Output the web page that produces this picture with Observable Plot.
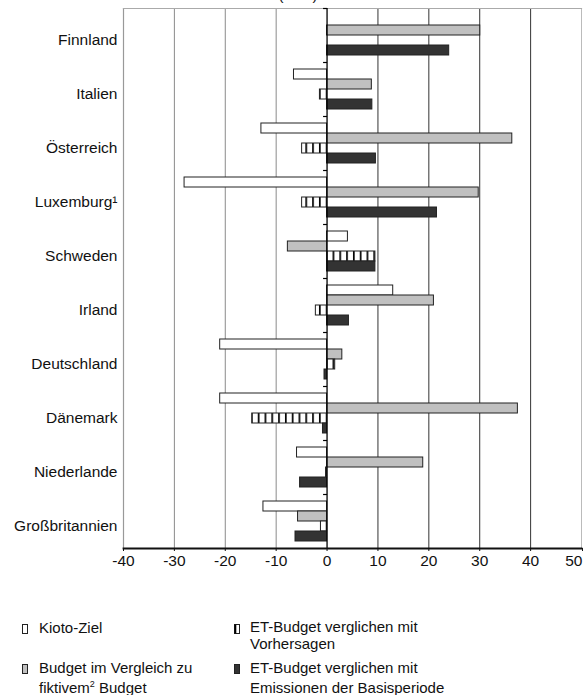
<!DOCTYPE html>
<html>
<head>
<meta charset="utf-8">
<script src="https://cdn.jsdelivr.net/npm/d3@7"></script>
<script src="https://cdn.jsdelivr.net/npm/@observablehq/plot@0.6"></script>
<style>
  html, body { margin: 0; padding: 0; background: #fff; }
  body { width: 586px; height: 695px; overflow: hidden; font-family: "Liberation Sans", Arial, sans-serif; color: #111; }
  #wrap { position: relative; width: 586px; height: 695px; }
  #title { position: absolute; top: -14px; left: 0; width: 586px; text-align: center; font-size: 15px; padding-left: 10px; box-sizing: border-box; }
  .lg { position: absolute; font-size: 15px; white-space: nowrap; }
  .sw { position: absolute; }
  sup { font-size: 9px; vertical-align: 6px; line-height: 0; }
</style>
</head>
<body>
<div id="wrap">
  <div id="chart"></div>
  <div id="title">(in %)</div>
  <div id="legend"></div>
</div>
<script>
// ---- data ----
const countries = ["Finnland", "Italien", "Österreich", "Luxemburg¹", "Schweden", "Irland", "Deutschland", "Dänemark", "Niederlande", "Großbritannien"];
const seriesNames = ["Kioto-Ziel", "Budget im Vergleich zu fiktivem² Budget", "ET-Budget verglichen mit Vorhersagen", "ET-Budget verglichen mit Emissionen der Basisperiode"];
const kiotoZiel    = [null, -6.5, -12.9, -28.0,  4.1, 13.0, -21.0, -21.0, -5.9, -12.5];
const budgetFiktiv = [30.1,  8.8,  36.4,  29.8, -7.7, 21.0,   3.0,  37.5, 18.9,  -5.7];
const etVorhersage = [null, -1.4,  -4.9,  -4.9,  9.5, -2.2,   1.6, -14.7, -0.2,  -1.2];
const etBasis      = [24.0,  8.9,   9.6,  21.6,  9.5,  4.3,  -0.5,  -0.8, -5.3,  -6.2];
const xTicks = [-40, -30, -20, -10, 0, 10, 20, 30, 40, 50];
const seriesFills = ["#ffffff", "#c0c0c0", "url(#hatch)", "#333333"];

const seriesValues = [kiotoZiel, budgetFiktiv, etVorhersage, etBasis];
const rows = [];
countries.forEach((c, i) => {
  seriesNames.forEach((s, j) => {
    const v = seriesValues[j][i];
    if (v != null) rows.push({country: c, series: s, value: v});
  });
});

const tickSymbol = { draw(ctx, size) { ctx.moveTo(-4, 0); ctx.lineTo(0, 0); } };
const lastTick = xTicks[xTicks.length - 1];

const chart = Plot.plot({
  width: 586,
  height: 576,
  marginTop: 8,
  marginBottom: 28,
  marginLeft: 123,
  marginRight: 5,
  style: { fontFamily: '"Liberation Sans", Arial, sans-serif', fontSize: "15.5px", color: "#111", background: "#fff" },
  x: { domain: [-40, 50] },
  y: { domain: seriesNames, paddingInner: 0, paddingOuter: 0.62, axis: null },
  fy: { domain: countries, padding: 0 },
  color: { domain: seriesNames, range: seriesFills },
  marks: [
    Plot.ruleX(xTicks.filter(d => d < 0 && d > -40), { stroke: "#8a8a8a", strokeWidth: 1 }),
    Plot.ruleX(xTicks.filter(d => d > 0 && d < 50), { stroke: "#333", strokeWidth: 1 }),
    Plot.ruleX([-40], { stroke: "#999", strokeWidth: 1.2 }),
    Plot.ruleX([50], { stroke: "#bbb", strokeWidth: 1 }),
    Plot.frame({ anchor: "top", facet: "super", stroke: "#aaa", strokeWidth: 1.2 }),
    Plot.barX(rows, { x: "value", y: "series", fy: "country", fill: "series", stroke: "#222", strokeWidth: 1 }),
    Plot.ruleX([0], { stroke: "#000", strokeWidth: 1.3 }),
    Plot.dot(countries, { fy: d => d, x: () => 0, frameAnchor: "top", symbol: tickSymbol, stroke: "#000", strokeWidth: 1.2, fill: "none", r: 3 }),
    Plot.frame({ anchor: "bottom", facet: "super", stroke: "#111", strokeWidth: 1.8 }),
    Plot.axisFy({ anchor: "left", tickSize: 0, tickPadding: 6, dy: 5, label: null, fontSize: 15.5 }),
    Plot.axisX({ ticks: xTicks.slice(0, -1), tickSize: 3, tickPadding: 3, label: null, tickFormat: d => String(d), fontSize: 15.5 }),
    Plot.axisX({ ticks: [lastTick], tickSize: 3, tickPadding: 3, label: null, tickFormat: d => String(d), fontSize: 15.5, textAnchor: "end", dx: 1 })
  ]
});

// hatch pattern for the ET-Budget (Vorhersagen) series
const x0 = chart.scale("x").apply(0);
const ns = "http://www.w3.org/2000/svg";
const defs = document.createElementNS(ns, "defs");
defs.innerHTML = `<pattern id="hatch" patternUnits="userSpaceOnUse" width="6.8" height="20" x="${x0 - 0.8}" y="0">
  <rect width="6.8" height="20" fill="#fff"></rect>
  <rect x="0" width="1.7" height="20" fill="#000"></rect>
</pattern>`;
chart.insertBefore(defs, chart.firstChild);
document.getElementById("chart").appendChild(chart);

// legend
const legend = document.getElementById("legend");
const swatch = (x, y, fill, extra) => {
  const el = document.createElement("div");
  el.className = "sw";
  el.innerHTML = `<svg width="8" height="11"><rect x="0.5" y="0.5" width="5" height="9" fill="${fill}" stroke="#222" stroke-width="1"></rect>${extra || ""}</svg>`;
  el.style.left = x + "px"; el.style.top = y + "px";
  legend.appendChild(el);
};
const text = (x, y, html, lh) => {
  const el = document.createElement("div");
  el.className = "lg";
  el.innerHTML = html;
  el.style.left = x + "px"; el.style.top = y + "px"; el.style.lineHeight = lh + "px";
  legend.appendChild(el);
};
swatch(22, 621, seriesFills[0]);
text(39, 620, "Kioto-Ziel", 16);
swatch(234, 621, "#fff", `<rect x="0.5" y="0.5" width="1.8" height="9" fill="#000"></rect>`);
text(250, 619, "ET-Budget verglichen mit<br>Vorhersagen", 16.5);
swatch(22, 661, seriesFills[1]);
text(39, 658, "Budget im Vergleich zu<br>fiktivem<sup>2</sup> Budget", 20);
swatch(234, 661, seriesFills[3]);
text(250, 658, "ET-Budget verglichen mit<br>Emissionen der Basisperiode", 20);
</script>
</body>
</html>
